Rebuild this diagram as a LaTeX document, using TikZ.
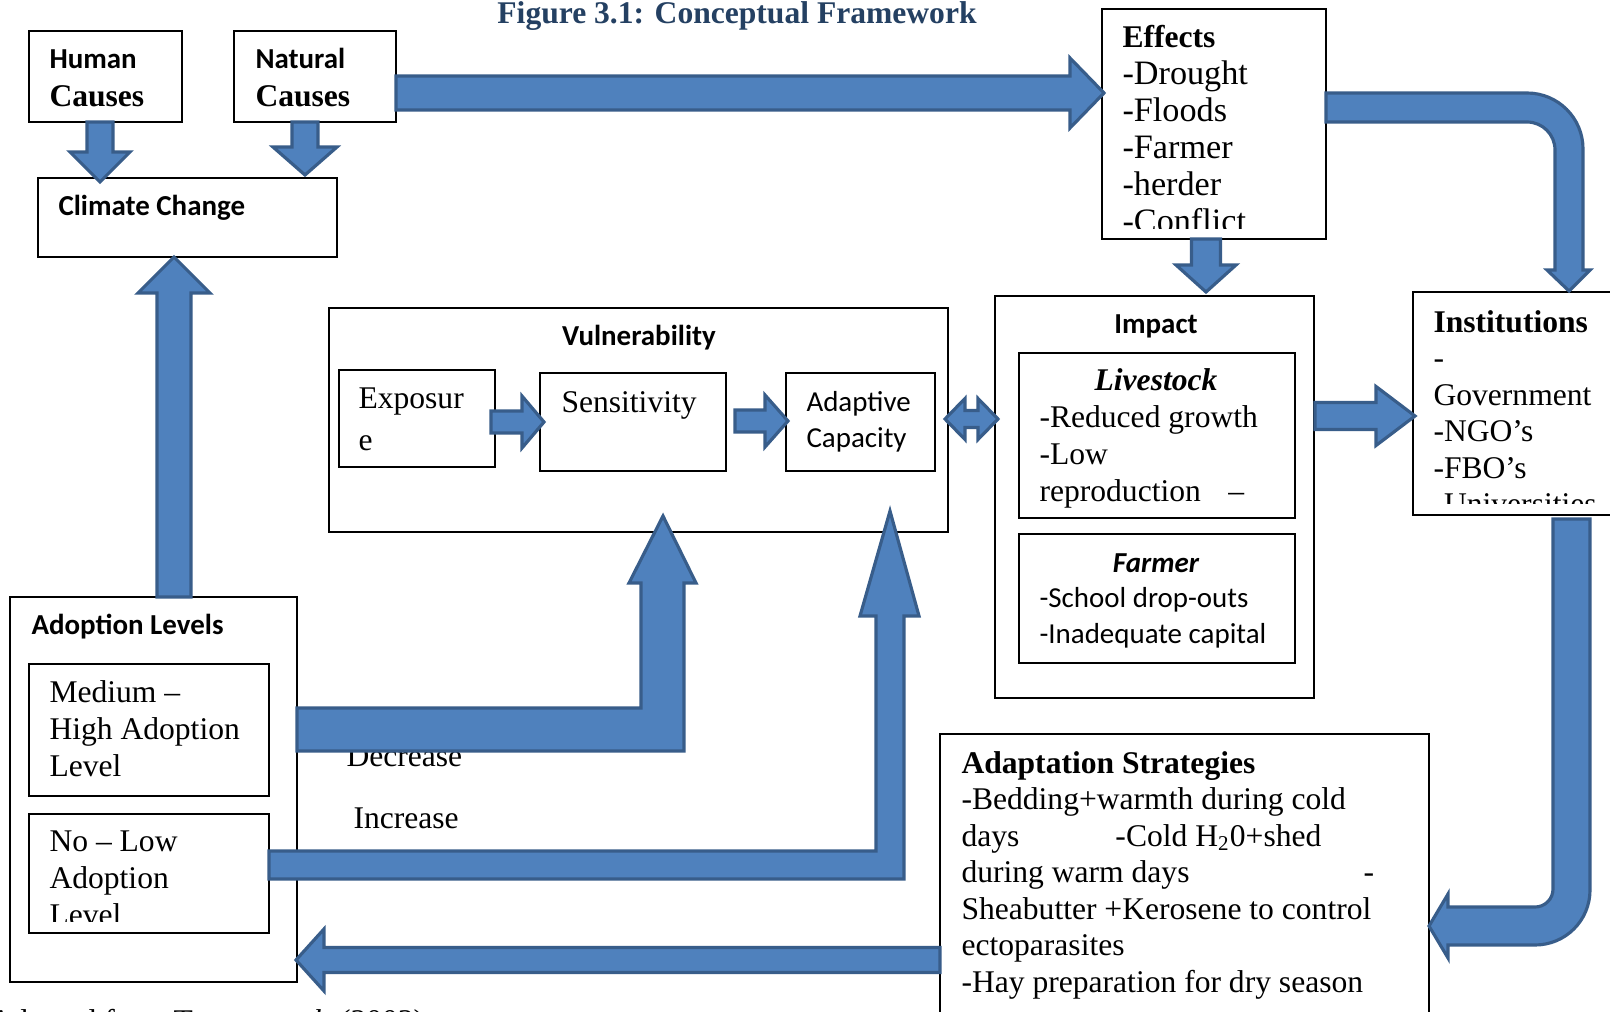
\documentclass[tikz,border=0pt]{standalone}
\usepackage{fontspec}
\setmainfont{Liberation Serif}
\newfontfamily\calibri{Carlito}
\usetikzlibrary{calc,fit}
\definecolor{arrowfill}{HTML}{4F81BD}
\definecolor{arrowline}{HTML}{385D8A}
\definecolor{titleblue}{RGB}{36,64,98}
\newcommand\fs[1]{\fontsize{#1}{#1}\selectfont}
\newcommand\Lines[2]{\vtop{\baselineskip=#1\relax\lineskiplimit=-100pt\relax\lineskip=0pt\relax #2}}
\tikzset{
  box/.style={draw=black, line width=0.55pt, inner sep=0pt, rectangle},
  barrow/.style={fill=arrowfill, draw=arrowline, line width=1.2pt, line join=miter},
  txt/.style={inner sep=0pt, anchor=base west},
  ctxt/.style={inner sep=0pt, anchor=base},
}
\newcommand\blockarrow[5]{%
  \coordinate (tmpH) at ($(#2)!#5*0.38pt!(#1)$);
  \draw[barrow] ($(#1)!#3*0.38pt!90:(#2)$) -- ($(tmpH)!#3*0.38pt!-90:(#1)$) -- ($(tmpH)!#4*0.38pt!-90:(#1)$) -- (#2) -- ($(tmpH)!#4*0.38pt!90:(#1)$) -- ($(tmpH)!#3*0.38pt!90:(#1)$) -- ($(#1)!#3*0.38pt!-90:(#2)$) -- cycle;}
\begin{document}
\begin{tikzpicture}[x=0.38pt,y=-0.38pt]
\useasboundingbox (0,0) rectangle (1610,1011);
\fill[white] (0,0) rectangle (1610,1011);

% ---------- boxes ----------
\node[box, fit={(29,31) (182,122)}] (human) {};
\node[box, fit={(234,31) (396,122)}] (natural) {};
\node[box, fit={(38,178) (337,257)}] (climate) {};
\node[box, fit={(1102,9) (1326,239)}] (effects) {};
\node[box, fit={(1413,292) (1640,515)}] (inst) {};
\node[box, fit={(995,296) (1314,698)}] (impact) {};
\node[box, fit={(1019,353) (1295,518)}] (livestock) {};
\node[box, fit={(1019,534) (1295,663)}] (farmer) {};
\node[box, fit={(329,308) (948,532)}] (vuln) {};
\node[box, fit={(339,370) (495,467)}] (expo) {};
\node[box, fit={(540,373) (726,471)}] (sens) {};
\node[box, fit={(786,373) (935,471)}] (adcap) {};
\node[box, fit={(10,597) (297,982)}] (adoption) {};
\node[box, fit={(29,664) (269,796)}] (medium) {};
\node[box, fit={(29,814) (269,933)}] (nolow) {};
\node[box, fit={(940,734) (1429,1040)}] (adapt) {};

% ---------- texts ----------
\node[ctxt, font=\fs{12}\bfseries, text=titleblue] (title) at (737,23) {Figure 3.1: Conceptual Framework};
\node[txt, font=\calibri\bfseries\fs{11}] (humanA) at (49,68) {Human};
\node[txt, font=\bfseries\fs{12}] (humanB) at (49,106) {Causes};
\node[txt, font=\calibri\bfseries\fs{11}] (natA) at (255,68) {Natural};
\node[txt, font=\bfseries\fs{12}] (natB) at (255,106) {Causes};
\node[txt, font=\calibri\bfseries\fs{11}] (climT) at (58,215) {Climate Change};

\begin{scope}
\clip (1103,10) rectangle (1325,228);
\node[txt, font=\fs{13}] (effT) at (1122,48) {\Lines{14.06pt}{\hbox{\fs{12}\bfseries Effects}\hbox{-Drought}\hbox{-Floods}\hbox{-Farmer}\hbox{-herder}\hbox{-Conflict}}};
\end{scope}

\begin{scope}
\clip (1414,293) rectangle (1640,503);
\node[txt, font=\fs{12}] (instT) at (1433,332) {\Lines{13.87pt}{\hbox{\bfseries Institutions}\hbox{-}\hbox{Government}\hbox{-NGO’s}\hbox{-FBO’s}\hbox{-Universities}}};
\end{scope}

\node[ctxt, font=\calibri\bfseries\fs{11}] (impT) at (1156,333) {Impact};
\node[ctxt, font=\fs{12}\bfseries\itshape] (livT) at (1156,390) {Livestock};
\node[txt, font=\fs{12}] (livL) at (1039,427) {\Lines{14.2pt}{\hbox{-Reduced growth}\hbox{-Low}\hbox{\makebox[71.8pt][l]{reproduction}–}}};
\node[ctxt, font=\calibri\fs{11}\bfseries\itshape] (farT) at (1156,572) {Farmer};
\node[txt, font=\calibri\fs{11}] (farL) at (1039,607) {\Lines{13.7pt}{\hbox{-School drop-outs}\hbox{-Inadequate capital}}};

\node[ctxt, font=\calibri\bfseries\fs{11}] (vulT) at (639,345) {Vulnerability};
\node[txt, font=\fs{12}] (expT) at (358,408) {\Lines{16pt}{\hbox{Exposur}\hbox{e}}};
\node[txt, font=\fs{12}] (senT) at (561,412) {Sensitivity};
\node[txt, font=\calibri\fs{11}] (adcT) at (806,411) {\Lines{13.7pt}{\hbox{Adaptive}\hbox{Capacity}}};

\node[txt, font=\calibri\bfseries\fs{11}] (adoT) at (31,634) {Adoption Levels};
\node[txt, font=\fs{12}] (medT) at (49,702) {\Lines{14.06pt}{\hbox{Medium –}\hbox{High Adoption}\hbox{Level}}};
\begin{scope}
\clip (30,815) rectangle (268,921);
\node[txt, font=\fs{12}] (nolT) at (49,851) {\Lines{14.06pt}{\hbox{No – Low}\hbox{Adoption}\hbox{Level}}};
\end{scope}

\node[txt, font=\fs{12}] (decT) at (346,766) {Decrease};
\node[txt, font=\fs{12}] (incT) at (353,828) {Increase};

\node[txt, font=\fs{12}] (adaT) at (961,773) {\Lines{13.87pt}{\hbox{\bfseries Adaptation Strategies}\hbox{-Bedding+warmth during cold}\hbox{\makebox[58.5pt][l]{days}-Cold H\textsubscript{2}0+shed}\hbox{\makebox[152.8pt][l]{during warm days}-}\hbox{Sheabutter +Kerosene to control}\hbox{ectoparasites}\hbox{-Hay preparation for dry season}}};

\node[txt, font=\fs{12}] (source) at (-11,1031) {Adapted from Turner \textit{et al}. (2003)};

% ---------- arrow end points ----------
\coordinate (a1s) at (100,122);  \coordinate (a1t) at (100,182);
\coordinate (a2s) at (305,122);  \coordinate (a2t) at (305,175);
\coordinate (a3s) at (396,93);   \coordinate (a3t) at (1104,93);
\coordinate (a4s) at (1206,239); \coordinate (a4t) at (1206,292);
\coordinate (a5s) at (1315,416); \coordinate (a5t) at (1415,416);
\coordinate (a6s) at (491,422);  \coordinate (a6t) at (544,422);
\coordinate (a7s) at (735,421);  \coordinate (a7t) at (788,421);
\coordinate (a8s) at (174,597);  \coordinate (a8t) at (174,257);
\coordinate (a9s) at (940,960);  \coordinate (a9t) at (296,960);

% ---------- arrows ----------
\blockarrow{a1s}{a1t}{13}{30}{30}
\blockarrow{a2s}{a2t}{13}{32}{28}
\blockarrow{a3s}{a3t}{17}{35}{34}
\blockarrow{a4s}{a4t}{14.5}{30}{27}
\blockarrow{a5s}{a5t}{13.5}{29.5}{39}
\blockarrow{a6s}{a6t}{11}{26}{22}
\blockarrow{a7s}{a7t}{11}{26}{23}
\blockarrow{a8s}{a8t}{17}{36}{36}
\blockarrow{a9s}{a9t}{12.5}{31}{28}

% double arrow Vulnerability <-> Impact
\draw[barrow] (945,419) -- (965,398.5) -- (965,410.5) -- (978,410.5) -- (978,398.5) -- (998,419) -- (978,439.5) -- (978,427.5) -- (965,427.5) -- (965,439.5) -- cycle;

% Medium-High adoption -> Sensitivity (decrease)
\draw[barrow] (297,708) -- (641,708) -- (641,583) -- (629,583) -- (663,516) -- (696,583) -- (684,583) -- (684,751) -- (297,751) -- cycle;

% No-Low adoption -> Adaptive capacity (increase)
\draw[barrow] (269,851) -- (876,851) -- (876,616) -- (860,616) -- (890,511) -- (919,616) -- (904,616) -- (904,879) -- (269,879) -- cycle;

% Effects -> Institutions
\draw[barrow] (1326,93) -- (1527,93) to[out=0,in=90] (1583,149) -- (1583,270) -- (1590,270) -- (1569,291) -- (1547,270) -- (1555,270) -- (1555,150) to[out=90,in=0] (1527,122) -- (1326,122) -- cycle;

% Institutions -> Adaptation strategies
\draw[barrow] (1553,519) -- (1590,519) -- (1590,890) to[out=270,in=0] (1535,945) -- (1448,945) -- (1448,958) -- (1429,926) -- (1448,894) -- (1448,907) -- (1535,907) to[out=0,in=270] (1553,889) -- cycle;
\end{tikzpicture}
\end{document}
